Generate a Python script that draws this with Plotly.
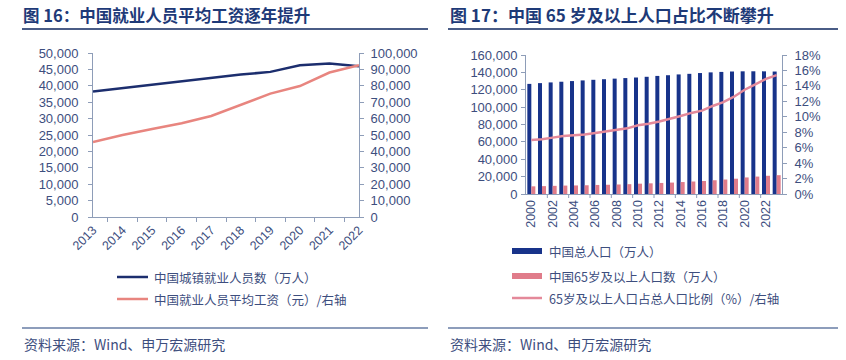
import plotly.graph_objects as go

W, H = 846, 360

# ---------------- data ----------------
years_left = ["2013", "2014", "2015", "2016", "2017", "2018", "2019", "2020", "2021", "2022"]
urban_employed = [38240, 39310, 40410, 41428, 42462, 43419, 44247, 46271, 46773, 45931]  # 万人
avg_wage = [45676, 49969, 53615, 57200, 61578, 68380, 75229, 79854, 88115, 92492]        # 元

years_right = [str(y) for y in range(2000, 2024)]
total_pop = [126743, 127627, 128453, 129227, 129988, 130756, 131448, 132129, 132802, 133450,
             134091, 134916, 135922, 136726, 137646, 138326, 139232, 140011, 140541, 141008,
             141212, 141260, 141175, 140967]
pop_65 = [8821, 9062, 9377, 9692, 9857, 10055, 10419, 10636, 10956, 11307,
          11894, 12288, 12714, 13161, 13755, 14386, 15003, 15831, 16658, 17603,
          19064, 20056, 20978, 21676]
ratio_65 = [7.0, 7.1, 7.3, 7.5, 7.6, 7.7, 7.9, 8.1, 8.3, 8.5,
            8.9, 9.1, 9.4, 9.7, 10.1, 10.5, 10.8, 11.4, 11.9, 12.6,
            13.5, 14.2, 14.9, 15.4]
right_ticks = [str(y) for y in range(2000, 2023, 2)]

title_left = "图 16：中国就业人员平均工资逐年提升"
title_right = "图 17：中国 65 岁及以上人口占比不断攀升"
legend_left = ["中国城镇就业人员数（万人）", "中国就业人员平均工资（元）/右轴"]
legend_right = ["中国总人口（万人）", "中国65岁及以上人口数（万人）", "65岁及以上人口占总人口比例（%）/右轴"]
source_text = "资料来源：Wind、申万宏源研究"

# ---------------- style ----------------
NAVY = "#1C2E6E"
SALMON = "#E8857F"
BAR_BLUE = "#18338A"
BAR_PINK = "#E07C8A"
LINE_PINK = "#E4899A"
AXIS = "#8E9DB8"
TXT = "#3D4E7E"
TITLE = "#1E3A78"
CJK = "Noto Sans CJK SC"
LAT = "Liberation Sans, Arial"


def px(x):
    return x / W


def py(y):
    return 1 - y / H


fig = go.Figure()

# left chart
fig.add_trace(go.Scatter(x=years_left, y=urban_employed, mode="lines",
                         line=dict(color=NAVY, width=2.5), xaxis="x", yaxis="y",
                         showlegend=False))
fig.add_trace(go.Scatter(x=years_left, y=avg_wage, mode="lines",
                         line=dict(color=SALMON, width=2.5), xaxis="x", yaxis="y2",
                         showlegend=False))

# right chart
fig.add_trace(go.Bar(x=years_right, y=total_pop, marker=dict(color=BAR_BLUE, line=dict(width=0)),
                     xaxis="x3", yaxis="y3", showlegend=False))
fig.add_trace(go.Bar(x=years_right, y=pop_65, marker=dict(color=BAR_PINK, line=dict(width=0)),
                     xaxis="x3", yaxis="y3", showlegend=False))
fig.add_trace(go.Scatter(x=years_right, y=ratio_65, mode="lines",
                         line=dict(color=LINE_PINK, width=2.5), xaxis="x3", yaxis="y4",
                         showlegend=False))

tickfont = dict(family=LAT, size=13, color=TXT)
axis_common = dict(showgrid=False, zeroline=False, showline=True, linecolor=AXIS, linewidth=1,
                   ticks="outside", ticklen=4, tickcolor=AXIS, tickfont=tickfont, fixedrange=True,
                   automargin=False)

fig.update_layout(
    width=W, height=H, autosize=False,
    margin=dict(l=0, r=0, t=0, b=0),
    paper_bgcolor="white", plot_bgcolor="white",
    hovermode=False,
    barmode="group", bargap=0.25, bargroupgap=0.0,
    xaxis=dict(domain=[px(93), px(359)], type="category", tickson="boundaries",
               tickangle=-45, anchor="y", **{**axis_common, "tickfont": dict(family=LAT, size=12.5, color=TXT)}),
    yaxis=dict(domain=[py(217), py(53)], range=[0, 50000], dtick=5000, tickformat=",",
               anchor="x", ticklabelstandoff=7, **axis_common),
    yaxis2=dict(domain=[py(217), py(53)], range=[0, 100000], dtick=10000, tickformat=",",
                overlaying="y", side="right", anchor="x", ticklabelstandoff=4, **axis_common),
    xaxis3=dict(domain=[px(526), px(782)], type="category", tickangle=-90, anchor="y3",
                tickmode="array", tickvals=right_ticks, ticktext=right_ticks,
                **{**axis_common, "ticks": "", "tickfont": dict(family=LAT, size=12.5, color=TXT)}),
    yaxis3=dict(domain=[py(194), py(55)], range=[0, 160000], dtick=20000, tickformat=",",
                anchor="x3", ticklabelstandoff=1, **axis_common),
    yaxis4=dict(domain=[py(194), py(55)], range=[0, 18], dtick=2, ticksuffix="%",
                overlaying="y3", side="right", anchor="x3", ticklabelstandoff=5, **axis_common),
)

shapes = []
annotations = []

# boundary ticks on right x axis every two categories
for i in range(1, 24, 2):
    xb = 526 + (i + 1) * (256 / 24)
    if xb < 782:
        shapes.append(dict(type="line", xref="paper", yref="paper",
                           x0=px(xb), x1=px(xb), y0=py(194), y1=py(198),
                           line=dict(color=AXIS, width=1)))

# titles and rules
annotations.append(dict(text=title_left, x=px(21), y=py(15), xref="paper", yref="paper",
                        xanchor="left", yanchor="middle", showarrow=False,
                        font=dict(family=CJK, size=16.5, color=TITLE, weight="bold")))
annotations.append(dict(text=title_right, x=px(448), y=py(15), xref="paper", yref="paper",
                        xanchor="left", yanchor="middle", showarrow=False,
                        font=dict(family=CJK, size=17, color=TITLE, weight="bold")))
for x0, x1 in [(22, 428), (448, 838)]:
    shapes.append(dict(type="line", xref="paper", yref="paper", x0=px(x0), x1=px(x1),
                       y0=py(29), y1=py(29), line=dict(color="#4A5C86", width=2)))
    shapes.append(dict(type="line", xref="paper", yref="paper", x0=px(x0), x1=px(x1),
                       y0=py(328), y1=py(328), line=dict(color="#8D9DBB", width=2)))

# footers
for x0 in [22, 448]:
    annotations.append(dict(text=source_text, x=px(x0), y=py(344), xref="paper", yref="paper",
                            xanchor="left", yanchor="middle", showarrow=False,
                            font=dict(family=CJK, size=14, color=TXT)))

# left legend
for (label, color, yy) in zip(legend_left, [NAVY, SALMON], [277, 299]):
    shapes.append(dict(type="line", xref="paper", yref="paper", x0=px(117), x1=px(148),
                       y0=py(yy), y1=py(yy), line=dict(color=color, width=2.5)))
    annotations.append(dict(text=label, x=px(152), y=py(yy), xref="paper", yref="paper",
                            xanchor="left", yanchor="middle", showarrow=False,
                            font=dict(family=CJK, size=12.5, color=TXT)))

# right legend
for label, color, yy, kind in zip(legend_right, [BAR_BLUE, BAR_PINK, LINE_PINK], [251, 276, 298],
                                  ["bar", "bar", "line"]):
    if kind == "bar":
        shapes.append(dict(type="rect", xref="paper", yref="paper", x0=px(512), x1=px(542),
                           y0=py(yy + 3), y1=py(yy - 3), line=dict(width=0), fillcolor=color))
    else:
        shapes.append(dict(type="line", xref="paper", yref="paper", x0=px(512), x1=px(542),
                           y0=py(yy), y1=py(yy), line=dict(color=color, width=2.5)))
    annotations.append(dict(text=label, x=px(547), y=py(yy), xref="paper", yref="paper",
                            xanchor="left", yanchor="middle", showarrow=False,
                            font=dict(family=CJK, size=12.5, color=TXT)))

fig.update_layout(shapes=shapes, annotations=annotations)

fig.write_html("out.html",
               config={"displayModeBar": False, "staticPlot": True},
               post_script="document.body.style.margin='0';document.body.style.padding='0';")
